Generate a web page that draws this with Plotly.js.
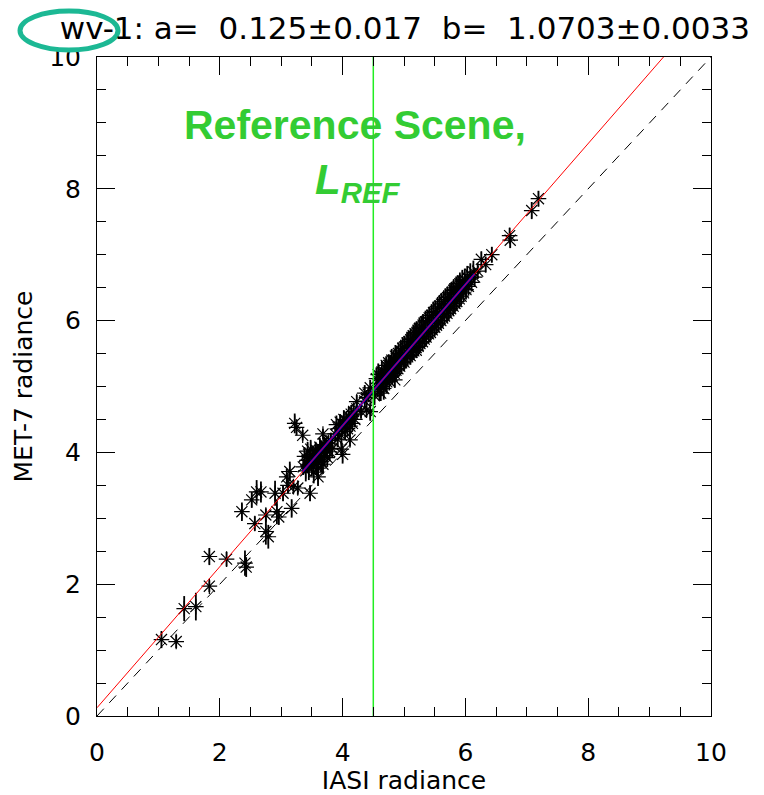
<!DOCTYPE html>
<html>
<head>
<meta charset="utf-8">
<script src="https://cdn.plot.ly/plotly-3.0.1.min.js"></script>
<style>
  html, body { margin: 0; padding: 0; background: #ffffff; }
  #chart { width: 764px; height: 795px; }
</style>
</head>
<body>
<div id="chart"></div>
<script>
// Fit coefficients: MET-7 = a + b * IASI
const fitA = 0.125;
const fitB = 1.0703;
const refScene = 4.5;

// Sparse low-radiance collocations
const iasiLow = [1.05, 1.29, 1.42, 1.61, 1.83, 1.83, 2.11, 2.41, 2.43, 2.36, 2.52, 2.60, 2.67, 2.57, 2.75, 2.75, 2.79, 2.90, 2.93, 2.96, 3.03, 3.09, 3.14, 3.17, 3.11, 3.20];
const metLow  = [1.16, 1.13, 1.63, 1.66, 1.97, 2.42, 2.38, 2.32, 2.26, 3.10, 3.28, 3.40, 3.40, 2.92, 3.05, 2.80, 2.72, 3.38, 3.10, 3.02, 3.38, 3.63, 3.71, 3.15, 3.50, 3.48];
const errLow  = [0.13, 0.10, 0.19, 0.21, 0.09, 0.13, 0.11, 0.19, 0.15, 0.14, 0.12, 0.18, 0.16, 0.11, 0.10, 0.20, 0.18, 0.19, 0.19, 0.12, 0.12, 0.12, 0.15, 0.14, 0.12, 0.10];

// Group around 3.4 - 3.8
const iasiMidA = [3.36, 3.38, 3.40, 3.42, 3.43, 3.45, 3.46, 3.48, 3.50, 3.51, 3.53, 3.54, 3.56, 3.57, 3.59, 3.60, 3.62, 3.63, 3.65, 3.66, 3.68, 3.70, 3.71, 3.73, 3.75, 3.77, 3.79, 3.81, 3.83,
                  3.44, 3.52, 3.58, 3.64, 3.72, 3.47, 3.27, 3.68, 3.60, 3.35, 3.22, 3.25];
const metMidA  = [3.78, 3.94, 3.72, 3.88, 4.02, 3.76, 3.92, 4.05, 3.80, 3.96, 3.70, 3.90, 4.04, 3.82, 3.99, 3.76, 3.94, 4.08, 3.86, 4.03, 3.82, 4.12, 3.95, 4.10, 3.92, 4.14, 4.01, 4.18, 4.06,
                  3.82, 3.90, 3.96, 4.02, 4.10, 3.38, 3.46, 4.28, 3.63, 4.26, 4.44, 4.38];
const errMidA  = [0.12, 0.14, 0.16, 0.12, 0.14, 0.18, 0.12, 0.14, 0.16, 0.12, 0.17, 0.14, 0.12, 0.16, 0.14, 0.18, 0.12, 0.14, 0.16, 0.12, 0.14, 0.12, 0.16, 0.12, 0.14, 0.12, 0.14, 0.12, 0.14,
                  0.12, 0.14, 0.12, 0.14, 0.12, 0.12, 0.10, 0.08, 0.14, 0.08, 0.15, 0.12];

// Group around 3.9 - 4.45
const iasiMidB = [3.88, 3.90, 3.92, 3.94, 3.96, 3.98, 4.00, 4.02, 4.04, 4.06, 4.08, 4.10, 4.12, 4.14, 4.16, 4.18, 4.20, 4.23, 3.98, 4.00, 4.12, 4.23, 4.30, 4.36, 4.39, 4.36, 4.39, 4.45, 4.45, 4.42];
const metMidB  = [4.28, 4.42, 4.20, 4.36, 4.46, 4.26, 4.42, 4.50, 4.32, 4.48, 4.36, 4.55, 4.40, 4.58, 4.44, 4.62, 4.50, 4.66, 4.05, 3.97, 4.19, 4.77, 4.62, 4.78, 4.64, 4.90, 4.83, 4.98, 4.62, 4.88];
const errMidB  = [0.12, 0.14, 0.12, 0.14, 0.12, 0.14, 0.12, 0.14, 0.12, 0.14, 0.12, 0.14, 0.12, 0.14, 0.12, 0.14, 0.12, 0.14, 0.12, 0.14, 0.10, 0.10, 0.10, 0.12, 0.10, 0.12, 0.10, 0.12, 0.14, 0.10];

// Dense group above the reference scene
const iasiHigh = [4.52, 4.55, 4.57, 4.58, 4.60, 4.61, 4.63, 4.64, 4.66, 4.67, 4.68, 4.70, 4.71, 4.72, 4.74, 4.75, 4.76, 4.78, 4.79, 4.80,
                  4.81, 4.83, 4.84, 4.86, 4.87, 4.88, 4.90, 4.91, 4.93, 4.95, 4.96, 4.98, 5.00, 5.01, 5.03, 5.05, 5.06, 5.08, 5.10, 5.11,
                  5.13, 5.15, 5.16, 5.18, 5.20, 5.21, 5.23, 5.25, 5.26, 5.28, 5.30, 5.31, 5.33, 5.35, 5.36, 5.38, 5.40, 5.41, 5.43, 5.45,
                  5.46, 5.48, 5.50, 5.51, 5.53, 5.55, 5.56, 5.58, 5.60, 5.61, 5.63, 5.65, 5.66, 5.68, 5.70, 5.71, 5.73, 5.75, 5.76, 5.78,
                  5.80, 5.81, 5.83, 5.85, 5.86, 5.88, 5.90, 5.91, 5.93, 5.95, 5.97, 5.99, 6.01, 6.03, 6.05, 6.08, 6.10, 6.13, 6.15,
                  4.65, 4.73, 4.85, 4.93, 5.05, 5.13, 5.25, 5.33, 5.45, 5.53, 5.65, 5.73, 5.85, 5.93, 6.00,
                  4.62, 4.85, 5.20, 4.75,
                  6.20, 6.26, 6.33, 6.43, 6.72, 6.73, 7.08, 7.19];
const metHigh  = [4.86, 5.12, 4.98, 5.18, 4.92, 5.12, 5.00, 5.22, 5.11, 4.97, 5.22, 5.10, 5.32, 5.07, 5.24, 5.32, 5.08, 5.31, 5.23, 5.40,
                  5.16, 5.38, 5.20, 5.46, 5.25, 5.44, 5.27, 5.50, 5.31, 5.54, 5.36, 5.58, 5.37, 5.60, 5.42, 5.66, 5.45, 5.68, 5.47, 5.71,
                  5.52, 5.77, 5.54, 5.80, 5.59, 5.82, 5.61, 5.88, 5.65, 5.90, 5.68, 5.93, 5.72, 5.98, 5.75, 6.00, 5.80, 6.04, 5.82, 6.08,
                  5.86, 6.12, 5.90, 6.14, 5.93, 6.19, 5.96, 6.22, 6.00, 6.25, 6.04, 6.29, 6.07, 6.32, 6.11, 6.35, 6.15, 6.40, 6.18, 6.42,
                  6.22, 6.46, 6.26, 6.50, 6.29, 6.52, 6.33, 6.56, 6.37, 6.60, 6.42, 6.62, 6.47, 6.66, 6.52, 6.70, 6.58, 6.74, 6.66,
                  5.10, 5.19, 5.32, 5.40, 5.52, 5.60, 5.76, 5.84, 5.95, 6.05, 6.18, 6.26, 6.40, 6.48, 6.55,
                  4.90, 5.10, 5.55, 5.36,
                  6.75, 6.93, 6.85, 7.00, 7.29, 7.22, 7.67, 7.85];
const errHigh  = [0.14, 0.17, 0.14, 0.17, 0.14, 0.17, 0.14, 0.17, 0.14, 0.17, 0.14, 0.17, 0.14, 0.17, 0.14, 0.17, 0.14, 0.17, 0.14, 0.17,
                  0.14, 0.17, 0.14, 0.17, 0.14, 0.17, 0.14, 0.17, 0.14, 0.17, 0.14, 0.17, 0.14, 0.17, 0.14, 0.17, 0.14, 0.17, 0.14, 0.17,
                  0.14, 0.17, 0.14, 0.17, 0.14, 0.17, 0.14, 0.17, 0.14, 0.17, 0.14, 0.17, 0.14, 0.17, 0.14, 0.17, 0.14, 0.17, 0.14, 0.17,
                  0.14, 0.17, 0.14, 0.17, 0.14, 0.17, 0.14, 0.17, 0.14, 0.17, 0.14, 0.17, 0.14, 0.17, 0.14, 0.17, 0.14, 0.17, 0.14, 0.17,
                  0.14, 0.17, 0.14, 0.17, 0.14, 0.17, 0.14, 0.17, 0.14, 0.17, 0.14, 0.17, 0.14, 0.17, 0.14, 0.17, 0.14, 0.17, 0.14,
                  0.15, 0.15, 0.15, 0.15, 0.15, 0.15, 0.15, 0.15, 0.15, 0.15, 0.15, 0.15, 0.15, 0.15, 0.15,
                  0.12, 0.12, 0.12, 0.12,
                  0.12, 0.12, 0.12, 0.12, 0.12, 0.12, 0.13, 0.12];

// Extent of the highlighted fit over the dense groups
const denseRange = [3.35, 6.15];

const tickVals = [0, 2, 4, 6, 8, 10];
const tickText = ['0', '2', '4', '6', '8', '10'];

const iasi = iasiLow.concat(iasiMidA, iasiMidB, iasiHigh);
const met = metLow.concat(metMidA, metMidB, metHigh);
const err = errLow.concat(errMidA, errMidB, errHigh);

const fitLine = x => fitA + fitB * x;
const redEnd = (10 - fitA) / fitB;

const traces = [
  {
    type: 'scatter', mode: 'lines', x: [0, 10], y: [0, 10],
    line: { color: '#000000', width: 1, dash: '10px,8px' }, hoverinfo: 'skip'
  },
  {
    type: 'scatter', mode: 'markers', x: iasi, y: met,
    marker: { symbol: 'asterisk-open', size: 13, color: '#000000', line: { color: '#000000', width: 1.2 } },
    error_y: { type: 'data', array: err, visible: true, color: '#000000', thickness: 1.8, width: 0 }
  },
  {
    type: 'scatter', mode: 'lines', x: denseRange, y: denseRange.map(fitLine),
    line: { color: '#0000ff', width: 2 }, hoverinfo: 'skip'
  },
  {
    type: 'scatter', mode: 'lines', x: [0, redEnd], y: [fitLine(0), 10],
    line: { color: '#ff0000', width: 1 }, hoverinfo: 'skip'
  },
  {
    type: 'scatter', mode: 'lines', x: [refScene, refScene], y: [0, 10],
    line: { color: '#22ee22', width: 1.5 }, hoverinfo: 'skip'
  }
];

const axisFont = { family: 'DejaVu Sans', size: 25, color: '#000000' };
const axisTitleFont = { family: 'DejaVu Sans', size: 25, color: '#000000' };

const axisCommon = {
  range: [0, 10],
  tickvals: tickVals,
  ticktext: tickText,
  ticks: 'inside',
  ticklen: 18,
  tickwidth: 1,
  tickcolor: '#000000',
  showline: true,
  linecolor: '#000000',
  linewidth: 1,
  mirror: 'ticks',
  showgrid: false,
  zeroline: false,
  tickfont: axisFont,
  minor: { dtick: 0.5, ticks: 'inside', ticklen: 9, tickcolor: '#000000', tickwidth: 1, showgrid: false }
};

const layout = {
  width: 764,
  height: 795,
  margin: { l: 97, r: 53, t: 57, b: 79 },
  paper_bgcolor: '#ffffff',
  plot_bgcolor: '#ffffff',
  showlegend: false,
  title: {
    text: 'wv-1: a=\u00a0 0.125±0.017\u00a0 b=\u00a0 1.0703±0.0033',
    font: { family: 'DejaVu Sans', size: 31, color: '#000000' },
    xref: 'container', x: 0.53, xanchor: 'center',
    yref: 'container', y: 0.965, yanchor: 'middle'
  },
  xaxis: Object.assign({}, axisCommon, {
    ticklabelstandoff: 14,
    title: { text: 'IASI radiance', font: axisTitleFont, standoff: 6 }
  }),
  yaxis: Object.assign({}, axisCommon, {
    ticklabelstandoff: 10,
    title: { text: 'MET-7 radiance', font: axisTitleFont, standoff: 9 }
  }),
  annotations: [
    {
      xref: 'paper', yref: 'paper', x: 0.42, y: 0.897, xanchor: 'center', yanchor: 'middle',
      text: '<b>Reference Scene,</b>', showarrow: false,
      font: { family: 'Liberation Sans', size: 41, color: '#33cc33' }
    },
    {
      xref: 'paper', yref: 'paper', x: 0.425, y: 0.81, xanchor: 'center', yanchor: 'middle',
      text: '<b><i>L<sub>REF</sub></i></b>', showarrow: false,
      font: { family: 'Liberation Sans', size: 42, color: '#33cc33' }
    }
  ],
  shapes: [
    {
      type: 'circle', xref: 'paper', yref: 'paper',
      x0: (20 - 97) / 614, x1: (118 - 97) / 614,
      y0: (716 - 50) / 659, y1: (716 - 11) / 659,
      line: { color: '#1cb894', width: 5 }, fillcolor: 'rgba(0,0,0,0)'
    }
  ]
};

Plotly.newPlot('chart', traces, layout, { staticPlot: true, displayModeBar: false });
</script>
</body>
</html>
